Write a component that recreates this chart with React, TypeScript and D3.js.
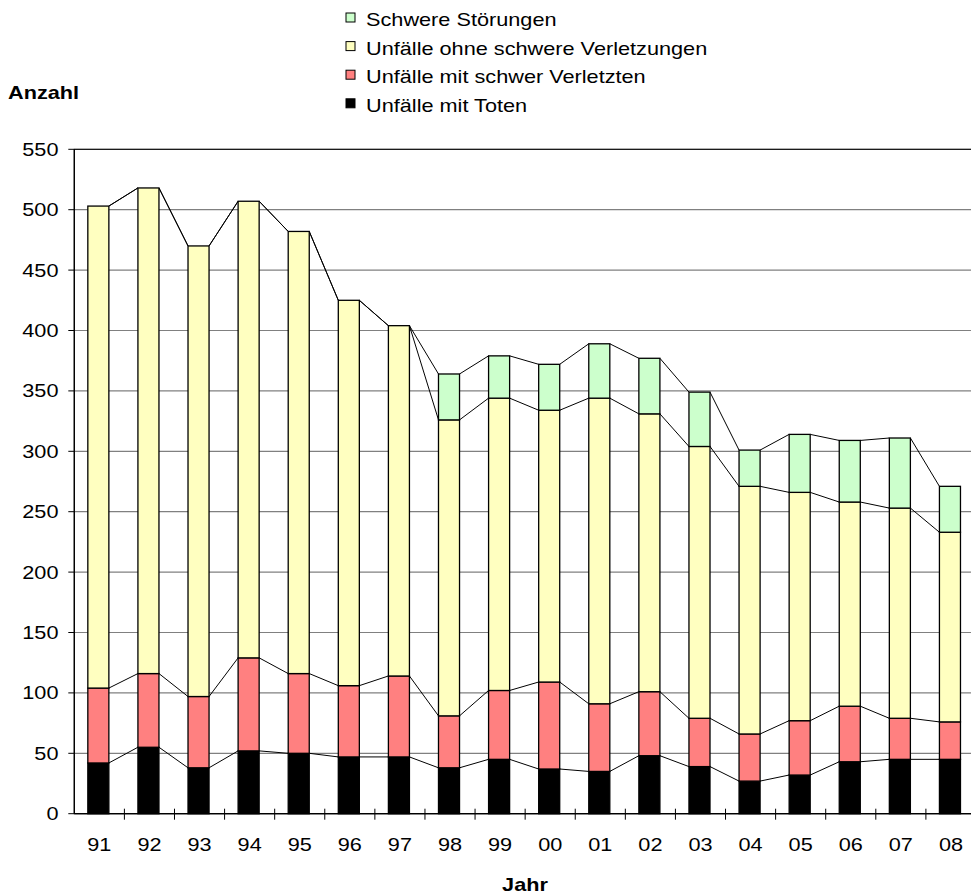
import React from 'react'
import * as d3 from 'd3'

// Jahre (Kategorien)
const years = ['91', '92', '93', '94', '95', '96', '97', '98', '99', '00', '01', '02', '03', '04', '05', '06', '07', '08']

// Werte je Serie (von unten nach oben gestapelt)
const unfaelleMitToten = [42, 55, 38, 52, 50, 47, 47, 38, 45, 37, 35, 48, 39, 27, 32, 43, 45, 45]
const unfaelleMitSchwerVerletzten = [62, 61, 59, 77, 66, 59, 67, 43, 57, 72, 56, 53, 40, 39, 45, 46, 34, 31]
const unfaelleOhneSchwereVerletzungen = [399, 402, 373, 378, 366, 319, 290, 245, 242, 225, 253, 230, 225, 205, 189, 169, 174, 157]
const schwereStoerungen = [0, 0, 0, 0, 0, 0, 0, 38, 35, 38, 45, 46, 45, 30, 48, 51, 58, 38]

const yTicks = [0, 50, 100, 150, 200, 250, 300, 350, 400, 450, 500, 550]

const series = [
  { key: 'tote', name: 'Unfälle mit Toten', color: '#000000', values: unfaelleMitToten },
  { key: 'schwer', name: 'Unfälle mit schwer Verletzten', color: '#FF8080', values: unfaelleMitSchwerVerletzten },
  { key: 'ohne', name: 'Unfälle ohne schwere Verletzungen', color: '#FFFFC0', values: unfaelleOhneSchwereVerletzungen },
  { key: 'stoer', name: 'Schwere Störungen', color: '#CCFFCC', values: schwereStoerungen },
]

const W = 971
const H = 894
const left = 74.3
const right = 976
const top = 149.3
const bottom = 813.7
const FONT = '"Liberation Sans", Arial, sans-serif'
const SX = 1.24 // text in the source is stretched horizontally

const App = () => {
  const x = d3.scaleBand().domain(years).range([left, right]).padding(0)
  const y = d3.scaleLinear().domain([0, 550]).range([bottom, top])
  const bw = x.bandwidth()
  const barW = bw * 0.42
  const barX = (c: string) => (x(c) as number) + (bw - barW) / 2 - 1

  const table = years.map((yr, i) => {
    const row: any = { year: yr }
    series.forEach(s => { row[s.key] = s.values[i] })
    return row
  })
  const stacked = d3.stack().keys(series.map(s => s.key))(table)

  const txt = (x0: number, y0: number, s: string, anchor: string, bold = false, size = 17.5) => (
    <text
      transform={`translate(${x0},${y0}) scale(${SX},1)`}
      textAnchor={anchor}
      fontFamily={FONT}
      fontSize={size}
      fontWeight={bold ? 'bold' : 'normal'}
      fill="#000"
    >{s}</text>
  )

  const legendOrder = [...series].reverse()

  return (
    <svg width={W} height={H} style={{ position: 'absolute', left: 0, top: 0, background: '#fff' }}>
      <rect x={0} y={0} width={W} height={H} fill="#fff" />
      {/* Gitterlinien */}
      {yTicks.map(t => (
        <line key={t} x1={left} x2={right} y1={y(t)} y2={y(t)} stroke="#808080" strokeWidth={1.2} />
      ))}
      <rect x={left} y={top} width={right - left} height={bottom - top} fill="none" stroke="#000" strokeWidth={1} />

      {/* Verbindungslinien */}
      {stacked.map(layer => (
        <g key={'sl' + layer.key}>
          {layer.slice(0, -1).map((d, i) => (
            <line
              key={i}
              x1={barX(years[i]) + barW}
              y1={y(d[1])}
              x2={barX(years[i + 1])}
              y2={y(layer[i + 1][1])}
              stroke="#000"
              strokeWidth={1}
            />
          ))}
        </g>
      ))}

      {/* Balken */}
      {stacked.map((layer, si) => (
        <g key={layer.key}>
          {layer.map((d, i) => d[1] - d[0] > 0 ? (
            <rect
              key={i}
              x={barX(years[i])}
              y={y(d[1])}
              width={barW}
              height={y(d[0]) - y(d[1])}
              fill={series[si].color}
              stroke="#000"
              strokeWidth={1.3}
            />
          ) : null)}
        </g>
      ))}

      {/* Achsen */}
      <line x1={left} x2={left} y1={top} y2={bottom} stroke="#000" strokeWidth={1.3} />
      <line x1={left} x2={right} y1={bottom} y2={bottom} stroke="#000" strokeWidth={1.3} />
      {yTicks.map(t => (
        <g key={'yt' + t}>
          <line x1={left - 6} x2={left} y1={y(t)} y2={y(t)} stroke="#000" strokeWidth={1} />
          {txt(58.5, y(t) + 6.5, String(t), 'end')}
        </g>
      ))}
      {years.map((c, i) => (
        <g key={'xt' + c}>
          {i > 0 && <line x1={x(c)} x2={x(c)} y1={bottom - 5} y2={bottom + 6} stroke="#000" strokeWidth={1} />}
          {txt((x(c) as number) + bw / 2, 851, c, 'middle')}
        </g>
      ))}

      {/* Achsentitel */}
      {txt(8, 99.3, 'Anzahl', 'start', true, 17.5)}
      {txt(525, 891, 'Jahr', 'middle', true, 17.5)}

      {/* Legende */}
      {legendOrder.map((s, i) => (
        <g key={'lg' + s.key}>
          <rect x={346} y={13 + i * 28.6} width={9} height={9} fill={s.color} stroke="#000" strokeWidth={1} />
          {txt(366, 26 + i * 28.6, s.name, 'start')}
        </g>
      ))}
    </svg>
  )
}

export default App
